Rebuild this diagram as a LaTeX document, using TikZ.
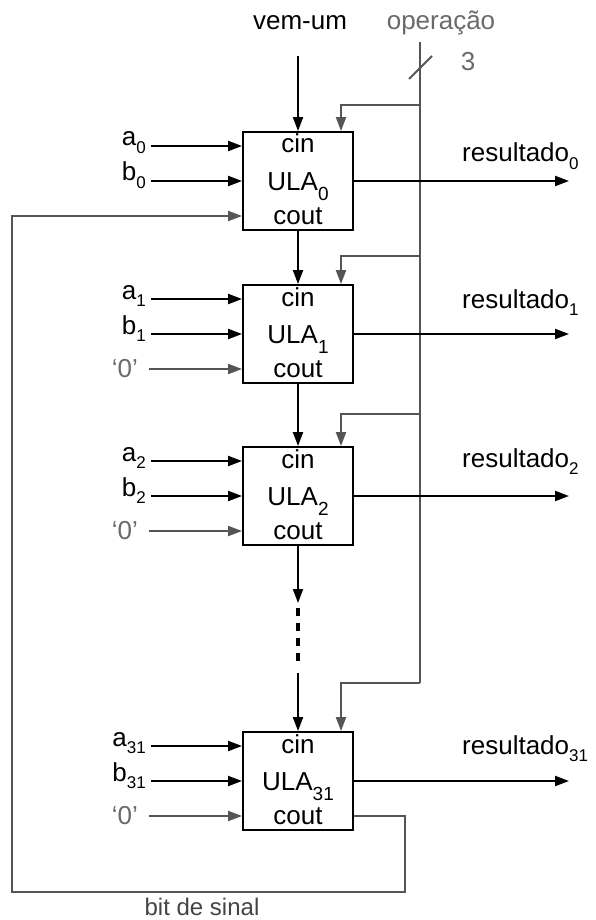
\documentclass[tikz,border=0pt]{standalone}
\usepackage{fontspec}
\setmainfont{Liberation Sans}
\usetikzlibrary{arrows.meta,calc}
\definecolor{gr}{HTML}{555555}
\definecolor{grt}{HTML}{6A6A6A}
\definecolor{grd}{HTML}{444444}
\newcommand\sbs[3][0.3em]{\raisebox{-#1}{\fontsize{#2}{#2}\selectfont #3}}
\begin{document}
\begin{tikzpicture}[x=1pt,y=-1pt,
  font=\fontsize{26}{30}\selectfont,
  ula/.style={draw,line width=1.9pt,minimum width=110pt,minimum height=98pt,inner sep=0pt},
  sig/.style={line width=2.1pt,-{Triangle[length=14pt,width=10pt]}},
  gsig/.style={sig,draw=gr,color=gr},
  gline/.style={line width=2.1pt,draw=gr},
  txt/.style={inner sep=0pt}]
\useasboundingbox (0,0) rectangle (596,920);

% boxes
\node[ula] (u0) at (298,181) {};
\node[ula] (u1) at (298,334) {};
\node[ula] (u2) at (298,496) {};
\node[ula] (u31) at (298,781) {};

% inner texts
\foreach \b/\s in {u0/0,u1/1,u2/2,u31/31}{
  \node[txt,anchor=base] (\b c) at ($(\b.center)+(0,-28)$) {cin};
  \node[txt,anchor=base] (\b l) at ($(\b.center)+(0,9)$) {ULA\sbs[0.42em]{19}{\s}};
  \node[txt,anchor=base] (\b o) at ($(\b.center)+(0,43)$) {cout};
}

% top labels
\node[txt] (vu) at (300,23) {vem-um};
\node[txt,text=grt] (op) at (441,23) {operação};
\coordinate (vu0) at (298,56);
\draw[sig] (vu0) -- (u0.north);

% operation bus
\coordinate (otop) at (420,42);
\coordinate (ob0) at (420,105);
\coordinate (ob1) at (420,256);
\coordinate (ob2) at (420,414);
\coordinate (ob31) at (420,683);
\draw[gline] (otop) -- (ob31);
\coordinate (sl1) at (409,79);
\coordinate (sl2) at (432,56);
\draw[gline] (sl1) -- (sl2);
\node[txt,text=grt] (three) at (468,62) {3};
\draw[gsig] (ob0) -| ($(u0.north)+(43,0)$);
\draw[gsig] (ob1) -| ($(u1.north)+(43,0)$);
\draw[gsig] (ob2) -| ($(u2.north)+(43,0)$);
\draw[gsig] (ob31) -| ($(u31.north)+(43,0)$);

% inputs a, b
\foreach \b/\s in {u0/0,u1/1,u2/2,u31/31}{
  \node[txt,anchor=base east] (\b a) at ($(\b.center)+(-152,-35)$) {a\sbs{17}{\s}};
  \node[txt,anchor=base east] (\b b) at ($(\b.center)+(-152,0)$) {b\sbs{17}{\s}};
  \draw[sig] ([xshift=5pt]\b a.base east) -- (\b a.base east -| \b.west);
  \draw[sig] ([xshift=5pt]\b b.base east) -- (\b b.base east -| \b.west);
}
% '0' inputs
\foreach \b in {u1,u2,u31}{
  \node[txt,anchor=east,text=grt] (\b z) at ($(\b.center)+(-160,35)$) {‘0’};
  \draw[gsig] ([xshift=11pt]\b z.east) -- (\b z.east -| \b.west);
}

% results
\foreach \b/\s/\d in {u0/0/19,u1/1/26,u2/2/29,u31/31/27}{
  \coordinate (\b r) at ($(\b.center)+(271,0)$);
  \draw[sig] (\b.east) -- (\b r);
  \node[txt,anchor=base west] (\b t) at ($(\b.center)+(164,-\d)$) {resultado\sbs[0.28em]{17}{\s}};
}

% carries
\draw[sig] (u0.south) -- (u1.north);
\draw[sig] (u1.south) -- (u2.north);
\coordinate (d1) at (298,603);
\coordinate (d2) at (298,608);
\coordinate (d3) at (298,662);
\coordinate (d4) at (298,673);
\draw[sig] (u2.south) -- (d1);
\draw[line width=3.5pt,dash pattern=on 8pt off 7pt] (d2) -- (d3);
\draw[sig] (d4) -- (u31.north);

% sign bit feedback
\coordinate (r1) at (405,892);
\coordinate (r2) at (12,892);
\draw[gsig] ($(u31.east)+(0,35)$) -| (r1) -| (r2) |- ($(u0.west)+(0,35)$);
\node[txt,text=grd,anchor=base,font=\fontsize{24}{28}\selectfont] (bs) at (202,915) {bit de sinal};
\end{tikzpicture}
\end{document}
